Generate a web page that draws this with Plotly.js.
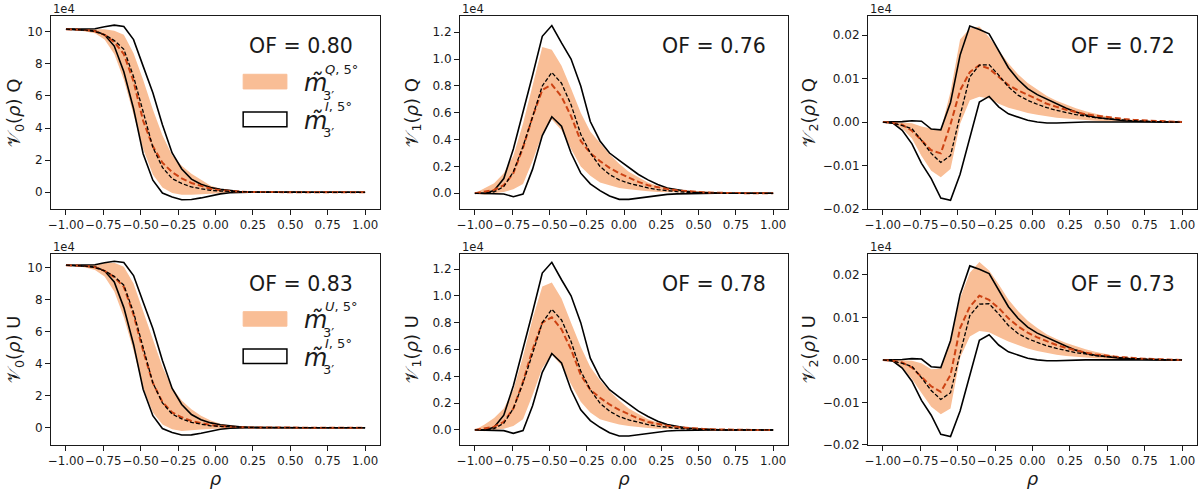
<!DOCTYPE html>
<html>
<head>
<meta charset="utf-8">
<script src="https://cdn.plot.ly/plotly-3.0.1.min.js"></script>
<style>
  html, body { margin: 0; padding: 0; background: #fff; }
  #chart { width: 1200px; height: 489px; }
</style>
</head>
<body>
<div id="chart"></div>
<script>
// rho grid (32 samples between -1 and 1)
var rho = [-1.000, -0.935, -0.871, -0.806, -0.742, -0.677, -0.613, -0.548, -0.484, -0.419,
           -0.355, -0.290, -0.226, -0.161, -0.097, -0.032, 0.032, 0.097, 0.161, 0.226,
           0.290, 0.355, 0.419, 0.484, 0.548, 0.613, 0.677, 0.742, 0.806, 0.871, 0.935, 1.000];

// m_I (black outline + black dashed mean), units of 1e4
var v0IHi = [10.15, 10.15, 10.15, 10.18, 10.3, 10.4, 10.32, 9.5, 7.85, 6.2, 4.2, 2.45, 1.45, 0.82, 0.5, 0.3, 0.18, 0.1, 0.05, 0.02, 0.01, 0, 0, 0, 0, 0, 0, 0, 0, 0, 0, 0];
var v0ILo = [10.15, 10.12, 10.08, 10.05, 9.8, 9.1, 7.5, 5.2, 2.4, 0.75, -0.05, -0.3, -0.46, -0.45, -0.35, -0.22, -0.1, -0.03, 0, 0, 0, 0, 0, 0, 0, 0, 0, 0, 0, 0, 0, 0];
var v0IMean = [10.15, 10.13, 10.1, 10.0, 9.8, 9.45, 8.9, 7.2, 4.95, 2.8, 1.55, 0.85, 0.55, 0.33, 0.22, 0.12, 0.08, 0.05, 0.03, 0.02, 0.01, 0, 0, 0, 0, 0, 0, 0, 0, 0, 0, 0];

var v1IHi = [0, 0, 0.02, 0.11, 0.33, 0.6, 0.88, 1.17, 1.25, 1.12, 1.0, 0.8, 0.535, 0.39, 0.3, 0.245, 0.19, 0.14, 0.1, 0.065, 0.04, 0.025, 0.015, 0.008, 0.004, 0, 0, 0, 0, 0, 0, 0];
var v1ILo = [0, 0, 0, -0.005, -0.025, -0.005, 0.18, 0.43, 0.57, 0.5, 0.3, 0.15, 0.07, 0.02, -0.02, -0.045, -0.045, -0.035, -0.025, -0.015, -0.008, -0.004, -0.002, 0, 0, 0, 0, 0, 0, 0, 0, 0];
var v1IMean = [0, 0, 0.01, 0.05, 0.16, 0.35, 0.57, 0.8, 0.9, 0.82, 0.66, 0.44, 0.3, 0.2, 0.14, 0.1, 0.075, 0.055, 0.04, 0.028, 0.018, 0.012, 0.007, 0.004, 0.002, 0, 0, 0, 0, 0, 0, 0];

var v2IHi = [0, 0, 0.0001, 0.0003, 0.0002, -0.0016, -0.0018, 0.0045, 0.0154, 0.0221, 0.0213, 0.0203, 0.0165, 0.0125, 0.0098, 0.0077, 0.0063, 0.0052, 0.0042, 0.0032, 0.0023, 0.0016, 0.0011, 0.0008, 0.0005, 0.0003, 0.0002, 0.0001, 0, 0, 0, 0];
var v2ILo = [0, -0.0002, -0.0019, -0.005, -0.0095, -0.013, -0.0175, -0.018, -0.012, -0.0035, 0.0046, 0.0059, 0.0035, 0.0019, 0.0012, 0.0004, 0, -0.0002, -0.0002, -0.0001, -0.0001, 0, 0, 0, 0, 0, 0, 0, 0, 0, 0, 0];
var v2IMean = [0, -0.0003, -0.0008, -0.0015, -0.0042, -0.0072, -0.0093, -0.0077, 0.0015, 0.0104, 0.0131, 0.0132, 0.0108, 0.0081, 0.0062, 0.005, 0.0041, 0.0033, 0.0027, 0.0022, 0.0017, 0.0014, 0.001, 0.0008, 0.0006, 0.0004, 0.0003, 0.0002, 0.0001, 0.0001, 0, 0];

// m_Q (orange band + red dashed mean)
var v0QHi = [10.15, 10.15, 10.15, 10.15, 10.15, 10.05, 9.8, 8.65, 7.0, 5.15, 3.55, 2.3, 1.65, 1.15, 0.75, 0.4, 0.22, 0.13, 0.08, 0.05, 0.03, 0.02, 0.01, 0, 0, 0, 0, 0, 0, 0, 0, 0];
var v0QLo = [10.15, 10.1, 10.0, 9.9, 9.5, 8.6, 7.0, 4.9, 2.7, 1.1, 0.3, -0.05, -0.15, -0.15, -0.12, -0.08, -0.04, -0.02, 0, 0, 0, 0, 0, 0, 0, 0, 0, 0, 0, 0, 0, 0];
var v0QMean = [10.15, 10.13, 10.1, 10.02, 9.8, 9.35, 8.6, 6.9, 4.45, 2.86, 1.84, 1.25, 0.86, 0.58, 0.38, 0.22, 0.12, 0.07, 0.04, 0.02, 0.01, 0, 0, 0, 0, 0, 0, 0, 0, 0, 0, 0];

var v1QHi = [0, 0.04, 0.075, 0.15, 0.28, 0.52, 0.8, 1.09, 1.07, 0.95, 0.78, 0.6, 0.46, 0.37, 0.29, 0.22, 0.16, 0.12, 0.08, 0.055, 0.04, 0.03, 0.02, 0.015, 0.01, 0.008, 0.005, 0.004, 0.003, 0.002, 0.001, 0];
var v1QLo = [0, -0.01, 0, 0.01, 0.03, 0.07, 0.24, 0.44, 0.55, 0.47, 0.33, 0.2, 0.13, 0.08, 0.06, 0.04, 0.03, 0.02, 0.015, 0.01, 0.008, 0.005, 0.003, 0.002, 0, 0, 0, 0, 0, 0, 0, 0];
var v1QMean = [0, 0.01, 0.025, 0.06, 0.15, 0.34, 0.57, 0.77, 0.81, 0.72, 0.575, 0.39, 0.3, 0.24, 0.19, 0.15, 0.115, 0.085, 0.06, 0.045, 0.032, 0.022, 0.015, 0.01, 0.006, 0.004, 0.002, 0, 0, 0, 0, 0];

var v2QHi = [0, 0, -0.0001, -0.0003, -0.001, -0.0015, -0.0019, 0.007, 0.019, 0.0215, 0.022, 0.0195, 0.0165, 0.0135, 0.011, 0.009, 0.0075, 0.006, 0.0049, 0.004, 0.0032, 0.0025, 0.0019, 0.0014, 0.001, 0.0007, 0.0005, 0.0003, 0.0002, 0.0001, 0.0001, 0];
var v2QLo = [0, -0.0004, -0.0015, -0.0038, -0.0078, -0.0112, -0.0127, -0.0108, -0.0004, 0.005, 0.0058, 0.0054, 0.0042, 0.0033, 0.0027, 0.0021, 0.0017, 0.0013, 0.001, 0.0008, 0.0006, 0.0004, 0.0003, 0.0002, 0.0001, 0.0001, 0, 0, 0, 0, 0, 0];
var v2QMean = [0, -0.0002, -0.0006, -0.002, -0.0042, -0.0065, -0.0072, -0.0005, 0.0073, 0.0115, 0.0131, 0.0123, 0.0104, 0.0085, 0.0073, 0.0062, 0.0052, 0.0042, 0.0035, 0.0028, 0.0023, 0.0018, 0.0015, 0.0012, 0.0009, 0.0007, 0.0005, 0.0004, 0.0003, 0.0002, 0.0001, 0];

// m_U (orange band + red dashed mean)
var v0UHi = [10.15, 10.15, 10.15, 10.2, 10.28, 10.3, 10.05, 9.0, 7.3, 5.5, 3.8, 2.5, 1.7, 1.15, 0.75, 0.45, 0.25, 0.14, 0.08, 0.05, 0.03, 0.02, 0.01, 0, 0, 0, 0, 0, 0, 0, 0, 0];
var v0ULo = [10.15, 10.1, 10.0, 9.85, 9.45, 8.5, 6.9, 4.8, 2.5, 0.95, 0.2, -0.1, -0.2, -0.18, -0.12, -0.08, -0.04, -0.02, 0, 0, 0, 0, 0, 0, 0, 0, 0, 0, 0, 0, 0, 0];
var v0UMean = [10.15, 10.13, 10.1, 10.02, 9.8, 9.4, 8.8, 7.05, 4.8, 2.8, 1.6, 0.95, 0.65, 0.42, 0.28, 0.16, 0.09, 0.05, 0.03, 0.02, 0.01, 0, 0, 0, 0, 0, 0, 0, 0, 0, 0, 0];

var v1UHi = [0, 0.04, 0.09, 0.16, 0.3, 0.55, 0.83, 1.07, 1.1, 0.98, 0.8, 0.62, 0.47, 0.37, 0.29, 0.22, 0.16, 0.12, 0.08, 0.055, 0.04, 0.03, 0.02, 0.015, 0.01, 0.008, 0.005, 0.004, 0.003, 0.002, 0.001, 0];
var v1ULo = [0, -0.01, 0, 0.01, 0.03, 0.08, 0.26, 0.46, 0.56, 0.48, 0.34, 0.21, 0.13, 0.08, 0.06, 0.04, 0.03, 0.02, 0.015, 0.01, 0.008, 0.005, 0.003, 0.002, 0, 0, 0, 0, 0, 0, 0, 0];
var v1UMean = [0, 0.01, 0.025, 0.06, 0.16, 0.36, 0.6, 0.8, 0.84, 0.75, 0.6, 0.41, 0.3, 0.24, 0.19, 0.15, 0.115, 0.085, 0.06, 0.045, 0.032, 0.022, 0.015, 0.01, 0.006, 0.004, 0.002, 0, 0, 0, 0, 0];

var v2UHi = [0, 0, -0.0001, -0.0002, -0.0008, -0.0022, -0.002, 0.005, 0.0145, 0.0205, 0.023, 0.021, 0.0178, 0.0142, 0.0115, 0.0092, 0.0075, 0.006, 0.0049, 0.004, 0.0032, 0.0025, 0.0019, 0.0014, 0.001, 0.0007, 0.0005, 0.0003, 0.0002, 0.0001, 0.0001, 0];
var v2ULo = [0, -0.0004, -0.0018, -0.0045, -0.0078, -0.011, -0.0128, -0.0114, 0.0005, 0.0055, 0.0068, 0.0065, 0.0054, 0.0043, 0.0035, 0.0027, 0.0021, 0.0016, 0.0012, 0.0009, 0.0007, 0.0005, 0.0004, 0.0003, 0.0002, 0.0001, 0.0001, 0, 0, 0, 0, 0];
var v2UMean = [0, -0.0002, -0.0006, -0.0018, -0.004, -0.0062, -0.0075, -0.0035, 0.0075, 0.0125, 0.0151, 0.0141, 0.0122, 0.0098, 0.0079, 0.0064, 0.0053, 0.0043, 0.0035, 0.0028, 0.0022, 0.0017, 0.0013, 0.001, 0.0008, 0.0006, 0.0004, 0.0003, 0.0002, 0.0001, 0.0001, 0];

var ofValues = ["0.80", "0.76", "0.72", "0.83", "0.78", "0.73"];
var xTicks = [-1, -0.75, -0.5, -0.25, 0, 0.25, 0.5, 0.75, 1];

var ORANGE = "rgb(249,190,150)";
var RED = "#cc4213";
var FONT = "DejaVu Sans, sans-serif";
var INK = "#1a1a1a";

var panels = [
  {hi: v0QHi, lo: v0QLo, mean: v0QMean, iHi: v0IHi, iLo: v0ILo, iMean: v0IMean, n: 0, s: "Q", range: [-1.04, 10.97], dtick: 2, fmt: "d", tx: -0.108},
  {hi: v1QHi, lo: v1QLo, mean: v1QMean, iHi: v1IHi, iLo: v1ILo, iMean: v1IMean, n: 1, s: "Q", range: [-0.117, 1.321], dtick: 0.2, fmt: ".1f", tx: -0.143},
  {hi: v2QHi, lo: v2QLo, mean: v2QMean, iHi: v2IHi, iLo: v2ILo, iMean: v2IMean, n: 2, s: "Q", range: [-0.02, 0.0244], dtick: 0.01, fmt: ".2f", tx: -0.176},
  {hi: v0UHi, lo: v0ULo, mean: v0UMean, iHi: v0IHi, iLo: v0ILo, iMean: v0IMean, n: 0, s: "U", range: [-1.08, 10.85], dtick: 2, fmt: "d", tx: -0.108},
  {hi: v1UHi, lo: v1ULo, mean: v1UMean, iHi: v1IHi, iLo: v1ILo, iMean: v1IMean, n: 1, s: "U", range: [-0.112, 1.312], dtick: 0.2, fmt: ".1f", tx: -0.143},
  {hi: v2UHi, lo: v2ULo, mean: v2UMean, iHi: v2IHi, iLo: v2ILo, iMean: v2IMean, n: 2, s: "U", range: [-0.02, 0.0249], dtick: 0.01, fmt: ".2f", tx: -0.176}
];

var colDomains = [[0.0425, 0.3167], [0.3833, 0.6567], [0.7233, 0.9975]];
var rowDomains = [[0.5726, 0.9673], [0.09, 0.4806]];

var data = [];
var layout = {
  width: 1200,
  height: 489,
  margin: {l: 0, r: 0, t: 0, b: 0},
  paper_bgcolor: "#fff",
  plot_bgcolor: "#fff",
  showlegend: false,
  font: {family: FONT, size: 12, color: INK},
  annotations: [],
  shapes: []
};

panels.forEach(function (p, k) {
  var id = k === 0 ? "" : String(k + 1);
  var xa = "x" + id, ya = "y" + id;
  // orange band
  data.push({x: rho, y: p.lo, xaxis: xa, yaxis: ya, mode: "lines", line: {width: 0, color: ORANGE}, hoverinfo: "skip"});
  data.push({x: rho, y: p.hi, xaxis: xa, yaxis: ya, mode: "lines", fill: "tonexty", fillcolor: ORANGE, line: {width: 0, color: ORANGE}, hoverinfo: "skip"});
  // black envelope
  data.push({x: rho, y: p.iHi, xaxis: xa, yaxis: ya, mode: "lines", line: {color: "#000", width: 1.6}});
  data.push({x: rho, y: p.iLo, xaxis: xa, yaxis: ya, mode: "lines", line: {color: "#000", width: 1.6}});
  // means
  data.push({x: rho, y: p.mean, xaxis: xa, yaxis: ya, mode: "lines", line: {color: RED, width: 2, dash: "6px,3px"}});
  data.push({x: rho, y: p.iMean, xaxis: xa, yaxis: ya, mode: "lines", line: {color: "#000", width: 1.3, dash: "4px,2px"}});

  var col = k % 3, row = Math.floor(k / 3);
  var xaxis = {
    domain: colDomains[col], anchor: ya, range: [-1.1, 1.1],
    tickvals: xTicks, tickformat: ".2f", tickangle: 0, ticks: "outside", ticklen: 5, tickwidth: 1, tickcolor: INK,
    showline: true, mirror: true, linecolor: INK, linewidth: 1, showgrid: false, zeroline: false,
    tickfont: {family: FONT, size: 11.8, color: INK}
  };
  if (row === 1) {
    xaxis.title = {text: "<i>ρ</i>", font: {family: FONT, size: 18, color: INK}, standoff: 0};
  }
  layout["xaxis" + id] = xaxis;
  layout["yaxis" + id] = {
    domain: rowDomains[row], anchor: xa, range: p.range,
    dtick: p.dtick, tick0: 0, tickformat: p.fmt, ticks: "outside", ticklen: 5, tickwidth: 1, tickcolor: INK,
    showline: true, mirror: true, linecolor: INK, linewidth: 1, showgrid: false, zeroline: false,
    tickfont: {family: FONT, size: 12, color: INK}
  };

  var xd = xa + " domain", yd = ya + " domain";
  // y title
  layout.annotations.push({
    xref: xd, yref: yd, x: p.tx, y: 0.5, xanchor: "center", yanchor: "middle", textangle: -90, showarrow: false,
    text: "𝒱<sub>" + p.n + "</sub>(<i>ρ</i>) " + p.s, font: {family: FONT, size: 18, color: INK}
  });
  // offset text
  layout.annotations.push({
    xref: xd, yref: yd, x: 0, y: 1, xanchor: "left", yanchor: "bottom", showarrow: false,
    text: "1e4", font: {family: FONT, size: 11.5, color: INK}, yshift: -2
  });
  // OF value
  layout.annotations.push({
    xref: xd, yref: yd, x: col === 0 ? 0.925 : 0.94, y: 0.845, xanchor: "right", yanchor: "middle", showarrow: false,
    text: "OF = " + ofValues[k], font: {family: FONT, size: 20.5, color: INK}
  });

  if (col === 0) {
    // legend patches
    layout.shapes.push({type: "rect", xref: xd, yref: yd, x0: 0.584, x1: 0.717, y0: 0.622, y1: 0.698,
      fillcolor: ORANGE, line: {color: ORANGE, width: 1}});
    layout.shapes.push({type: "rect", xref: xd, yref: yd, x0: 0.584, x1: 0.717, y0: 0.426, y1: 0.502,
      fillcolor: "#fff", line: {color: "#000", width: 1.5}});
    var labels = [[p.s, 0.652], ["I", 0.457]];
    labels.forEach(function (lb) {
      layout.annotations.push({xref: xd, yref: yd, x: 0.762, y: lb[1], xanchor: "left", yanchor: "middle", showarrow: false,
        text: "<i>m̃</i>", font: {family: FONT, size: 24, color: INK}});
      layout.annotations.push({xref: xd, yref: yd, x: 0.826, y: lb[1] + 0.072, xanchor: "left", yanchor: "middle", showarrow: false,
        text: "<i>" + lb[0] + "</i>, 5°", font: {family: FONT, size: 13, color: INK}});
      layout.annotations.push({xref: xd, yref: yd, x: 0.822, y: lb[1] - 0.062, xanchor: "left", yanchor: "middle", showarrow: false,
        text: "3′", font: {family: FONT, size: 13, color: INK}});
    });
  }
});

Plotly.newPlot("chart", data, layout, {staticPlot: true});
</script>
</body>
</html>
